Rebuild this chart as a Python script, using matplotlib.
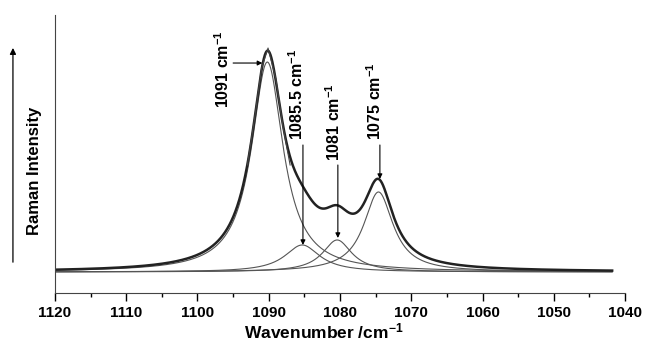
import matplotlib
matplotlib.use("Agg")
import matplotlib.pyplot as plt
import numpy as np

plt.rcParams['font.family'] = ['Liberation Sans', 'DejaVu Sans']
plt.rcParams['mathtext.fontset'] = 'custom'
plt.rcParams['mathtext.bf'] = 'Liberation Sans:bold'
plt.rcParams['mathtext.rm'] = 'Liberation Sans:bold'
plt.rcParams['mathtext.default'] = 'bf'

# fitted bands
centers = [1090.2, 1085.3, 1080.4, 1074.6]
heights = [210, 27, 32, 80]
fwhm = [5.4, 6.0, 5.0, 5.0]
band_labels = ['1091 cm$^{-1}$', '1085.5 cm$^{-1}$', '1081 cm$^{-1}$', '1075 cm$^{-1}$']

# measured points around the top of the main band
meas_wn = [1093, 1092, 1091, 1090.1, 1089, 1088, 1087]
meas_int = [107, 153, 204, 224, 193, 145, 107]

# label placement (wavenumber, intensity) and arrow start/end
label_pos = [(1096.4, 203), (1086.1, 178), (1080.9, 150), (1075.2, 171)]
arrow_from = [(1095.0, 209), (1085.2, 127), (1080.3, 107), (1074.4, 127)]
arrow_to = [(1090.9, 209), (1085.2, 27), (1080.3, 34), (1074.4, 93)]

x = np.linspace(1120, 1041.8, 2000)


def lorentz(x, c, h, w):
    g = w / 2.0
    return h / (1 + ((x - c) / g) ** 2)


comps = [lorentz(x, c, h, w) for c, h, w in zip(centers, heights, fwhm)]
total = np.sum(comps, axis=0)

fig = plt.figure(figsize=(6.47, 3.5), dpi=100)
ax = fig.add_axes([0.085, 0.163, 0.881, 0.794])

for y in comps:
    ax.plot(x, y, color='#555555', lw=0.8)
ax.plot(x, total, color='#222222', lw=1.8)
ax.plot(meas_wn, meas_int, color='#444444', lw=0.8)

for lab, p, a0, a1 in zip(band_labels, label_pos, arrow_from, arrow_to):
    ax.text(p[0], p[1], lab, rotation=90, ha='center', va='center',
            fontsize=11.5, fontweight='bold')
    ax.annotate('', xy=a1, xytext=a0,
                arrowprops=dict(arrowstyle='-|>', color='black', lw=0.8,
                                mutation_scale=7, shrinkA=0, shrinkB=0))

ax.set_xlim(1120, 1040)
ax.set_ylim(-21, 257)
ax.set_xticks(np.arange(1120, 1039, -10))
ax.set_xticks(np.arange(1115, 1040, -10), minor=True)
ax.tick_params(axis='x', which='major', direction='out', length=6, width=1,
               labelsize=11)
ax.tick_params(axis='x', which='minor', direction='out', length=3, width=1)
for t in ax.get_xticklabels():
    t.set_fontweight('bold')
ax.set_yticks([])
ax.spines['top'].set_visible(False)
ax.spines['right'].set_visible(False)
ax.spines['left'].set_color('#444444')
ax.spines['bottom'].set_color('#444444')

fig.text(0.5, 0.025, 'Wavenumber /cm$^{-1}$', ha='center', va='bottom',
         fontsize=12.5, fontweight='bold')

# y axis arrow and label
fig.add_artist(matplotlib.patches.FancyArrowPatch(
    (0.02, 0.243), (0.02, 0.871), transform=fig.transFigure,
    arrowstyle='-|>', mutation_scale=9, color='black', lw=0.9))
fig.text(0.054, 0.512, 'Raman Intensity', rotation=90, ha='center', va='center',
         fontsize=12, fontweight='bold')

fig.savefig('out.png', dpi=100)
